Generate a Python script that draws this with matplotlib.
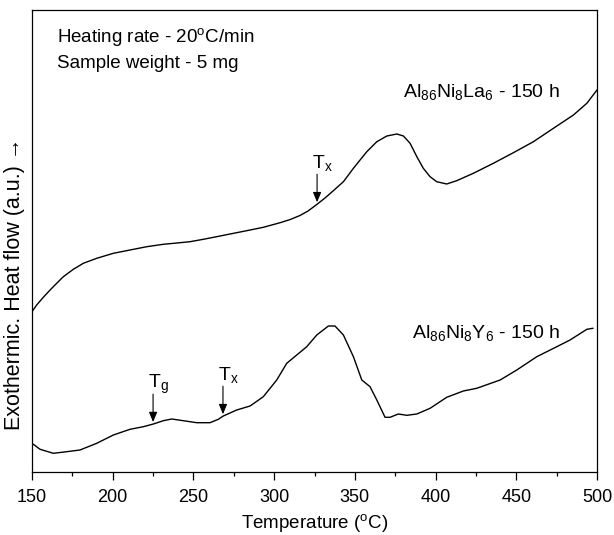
import numpy as np
import matplotlib
matplotlib.use("Agg")
import matplotlib.pyplot as plt
from matplotlib.ticker import MultipleLocator

# Al86Ni8La6 - 150 h (upper curve), heat flow in arbitrary units
la_temp = [150.0, 152.9, 157.0, 161.2, 165.3, 169.4, 175.6, 181.8, 190.1, 200.4,
           210.7, 221.1, 231.3, 241.7, 247.9, 256.1, 264.4, 272.7, 283.0, 293.3,
           303.7, 310.0, 316.0, 321.0, 326.4, 331.5, 336.7, 342.9, 349.1, 357.4,
           363.6, 369.8, 376.0, 380.1, 384.2, 388.4, 392.4, 396.6, 400.7, 406.9,
           413.1, 423.4, 435.8, 448.2, 460.6, 473.0, 485.4, 493.7, 500.0]
la_flow = [160.3, 167.0, 174.7, 182.0, 188.7, 195.3, 202.7, 208.7, 213.7, 218.7,
           222.0, 225.3, 227.7, 229.3, 230.3, 232.7, 235.3, 238.0, 241.3, 244.7,
           249.3, 252.5, 256.5, 261.0, 267.5, 274.0, 281.3, 290.3, 303.7, 320.3,
           330.3, 336.0, 338.0, 336.0, 328.7, 315.3, 303.7, 295.3, 290.3, 288.0,
           291.3, 298.7, 308.7, 319.3, 330.3, 343.7, 357.0, 368.7, 382.0]

# Al86Ni8Y6 - 150 h (lower curve)
y_temp = [150.0, 155.0, 163.2, 171.5, 179.7, 190.1, 200.4, 210.7, 219.0, 225.2,
          231.4, 236.6, 243.7, 252.0, 260.3, 265.4, 268.5, 276.8, 285.1, 293.3,
          301.6, 307.8, 314.0, 320.2, 326.4, 333.6, 337.7, 342.9, 349.1, 354.3,
          359.4, 363.6, 368.7, 371.8, 376.9, 382.2, 388.4, 396.6, 406.9, 417.2,
          425.5, 440.0, 450.3, 462.7, 475.1, 483.3, 493.7, 497.4]
y_flow = [28.7, 22.7, 18.7, 20.3, 22.0, 28.7, 37.0, 42.7, 45.3, 48.0,
          51.3, 53.0, 51.3, 49.3, 49.3, 52.7, 56.0, 62.0, 66.0, 75.3,
          92.0, 108.7, 117.0, 125.3, 137.0, 146.0, 146.0, 137.0, 115.3, 92.0,
          85.3, 72.0, 54.7, 54.7, 58.0, 56.7, 58.0, 63.7, 74.7, 81.0,
          83.7, 92.0, 102.0, 115.3, 125.3, 132.0, 142.7, 143.7]

# marked transition temperatures (subscript, temperature, which curve)
marks = [("x", 326.6, "La"), ("g", 225.0, "Y"), ("x", 268.3, "Y")]

plt.rcParams["font.family"] = ["Liberation Sans", "DejaVu Sans"]
plt.rcParams["mathtext.default"] = "regular"

fig = plt.figure(figsize=(6.14, 5.35), dpi=100)
ax = fig.add_axes([32 / 614, 63 / 535, 565 / 614, 462 / 535])

ax.plot(la_temp, la_flow, color="black", lw=1.0)
ax.plot(y_temp, y_flow, color="black", lw=1.0)

ax.set_xlim(150, 500)
ax.set_ylim(0, 462)
ax.xaxis.set_major_locator(MultipleLocator(50))
ax.xaxis.set_minor_locator(MultipleLocator(25))
ax.tick_params(axis="x", which="major", direction="out", length=5.5, width=0.9,
               pad=7, labelsize=13)
ax.tick_params(axis="x", which="minor", direction="out", length=3, width=0.9)
ax.set_yticks([])
for s in ax.spines.values():
    s.set_linewidth(0.9)

ax.set_xlabel(r"Temperature ($^{o}$C)", fontsize=13.5, labelpad=4)
fig.text(15 / 614, 1 - 284 / 535, "Exothermic. Heat flow (a.u.) \u2192",
         rotation=90, ha="center", va="center", fontsize=15.5)

ax.text(0.044, 0.931, r"Heating rate - 20$^{o}$C/min", transform=ax.transAxes,
        fontsize=13.5, va="baseline")
ax.text(0.044, 0.874, "Sample weight - 5 mg", transform=ax.transAxes,
        fontsize=13.5, va="baseline")
ax.text(0.657, 0.812, r"Al$_{86}$Ni$_{8}$La$_{6}$ - 150 h", transform=ax.transAxes,
        fontsize=14, va="baseline")
ax.text(0.673, 0.289, r"Al$_{86}$Ni$_{8}$Y$_{6}$ - 150 h", transform=ax.transAxes,
        fontsize=14, va="baseline")

curves = {"La": (la_temp, la_flow), "Y": (y_temp, y_flow)}
for sub, t, which in marks:
    xs, ys = curves[which]
    tip = np.interp(t, xs, ys) + 2
    tail = tip + 28
    ax.annotate("", xy=(t, tip), xytext=(t, tail),
                arrowprops=dict(arrowstyle="-|>,head_length=0.6,head_width=0.25",
                                color="black", lw=0.8, shrinkA=0, shrinkB=0,
                                mutation_scale=10))
    ax.annotate(r"T$_{%s}$" % sub, xy=(t, tail), xytext=(-5, 6),
                textcoords="offset pixels", fontsize=14, va="baseline")

fig.savefig("out.png", dpi=100)
